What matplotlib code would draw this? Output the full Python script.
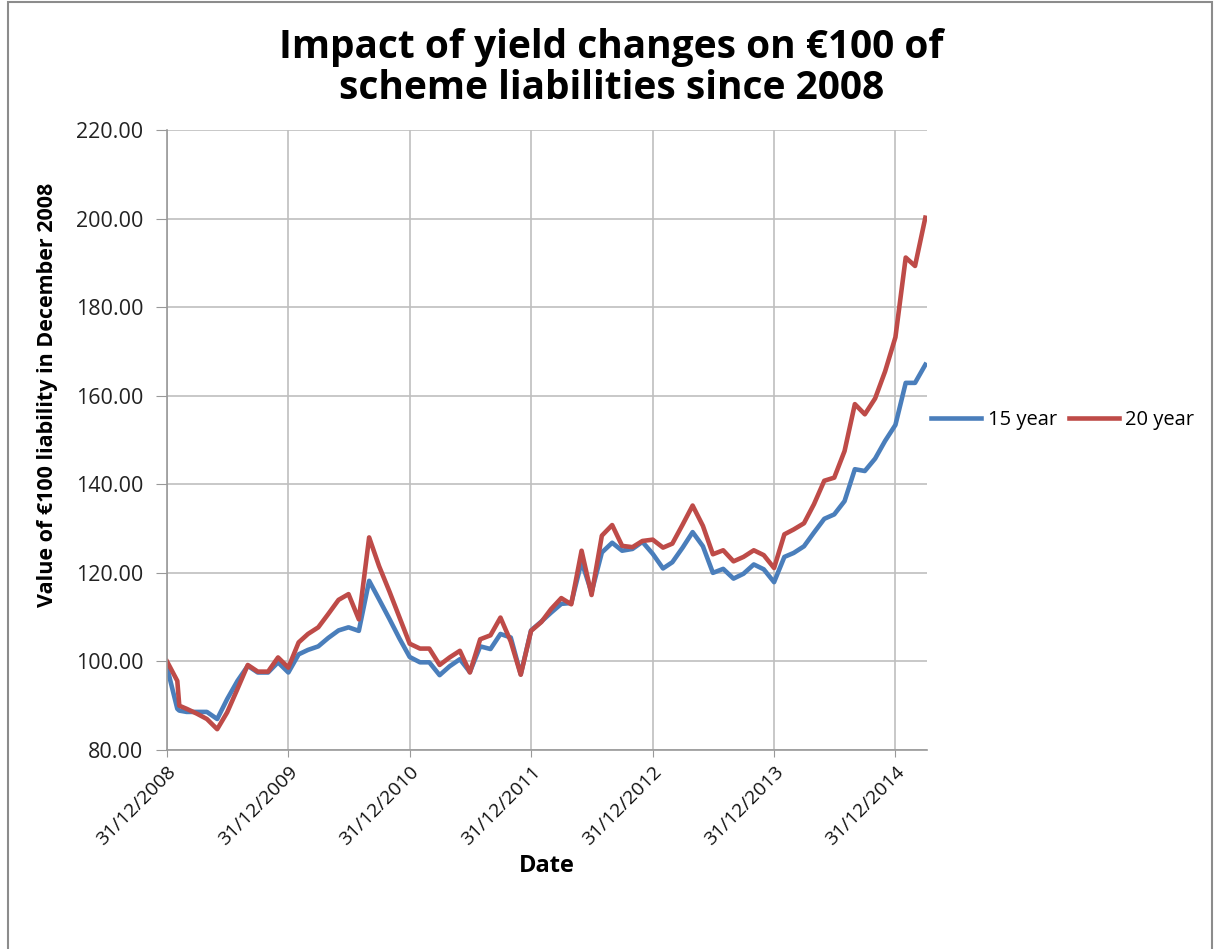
import matplotlib
matplotlib.use("Agg")
import matplotlib.pyplot as plt
import matplotlib.dates as mdates
from matplotlib.patches import Rectangle
import pandas as pd

# Daten
dates = ["2008-12-31", "2009-01-31", "2009-02-06", "2009-02-28", "2009-03-31", "2009-04-30",
         "2009-05-31", "2009-06-30", "2009-07-31", "2009-08-31", "2009-09-30", "2009-10-31",
         "2009-11-30", "2009-12-31", "2010-01-31", "2010-02-28", "2010-03-31", "2010-04-30",
         "2010-05-31", "2010-06-30", "2010-07-31", "2010-08-31", "2010-09-30", "2010-10-31",
         "2010-11-30", "2010-12-31", "2011-01-31", "2011-02-28", "2011-03-31", "2011-04-30",
         "2011-05-31", "2011-06-30", "2011-07-31", "2011-08-31", "2011-09-30", "2011-10-31",
         "2011-11-30", "2011-12-31", "2012-01-31", "2012-02-29", "2012-03-31", "2012-04-30",
         "2012-05-31", "2012-06-30", "2012-07-31", "2012-08-31", "2012-09-30", "2012-10-31",
         "2012-11-30", "2012-12-31", "2013-01-31", "2013-02-28", "2013-03-31", "2013-04-30",
         "2013-05-31", "2013-06-30", "2013-07-31", "2013-08-31", "2013-09-30", "2013-10-31",
         "2013-11-30", "2013-12-31", "2014-01-31", "2014-02-28", "2014-03-31", "2014-04-30",
         "2014-05-31", "2014-06-30", "2014-07-31", "2014-08-31", "2014-09-30", "2014-10-31",
         "2014-11-30", "2014-12-31", "2015-01-31", "2015-02-28", "2015-03-31"]

fifteen_year = [98.7, 89.3, 88.9, 88.6, 88.6, 88.6, 87.0, 91.5, 95.6, 99.0, 97.5, 97.5,
                99.8, 97.5, 101.6, 102.6, 103.4, 105.3, 107.0, 107.7, 106.9, 118.2, 114.0, 109.6,
                105.2, 101.0, 99.8, 99.8, 96.9, 98.9, 100.5, 97.6, 103.4, 102.8, 106.2, 105.4,
                97.1, 107.0, 109.0, 111.0, 113.0, 113.2, 122.5, 115.6, 124.6, 126.8, 125.0, 125.4,
                127.0, 124.3, 121.0, 122.4, 125.7, 129.2, 126.0, 120.0, 120.9, 118.7, 119.8, 121.9,
                120.8, 117.9, 123.6, 124.5, 126.0, 129.1, 132.2, 133.2, 136.2, 143.4, 143.0, 145.8,
                149.8, 153.4, 162.9, 162.9, 167.0]

twenty_year = [100.0, 95.6, 90.0, 89.3, 88.2, 87.0, 84.7, 88.5, 93.8, 99.2, 97.7, 97.7,
               100.9, 98.6, 104.3, 106.2, 107.7, 110.7, 113.9, 115.2, 109.5, 128.0, 121.5, 115.8,
               110.0, 104.0, 102.9, 102.9, 99.2, 100.9, 102.4, 97.5, 105.0, 105.9, 109.9, 104.5,
               97.0, 106.9, 108.9, 111.8, 114.3, 112.9, 125.0, 115.0, 128.4, 130.8, 126.1, 125.8,
               127.2, 127.5, 125.7, 126.6, 130.9, 135.2, 130.6, 124.2, 125.1, 122.6, 123.6, 125.1,
               124.0, 121.1, 128.7, 129.8, 131.2, 135.5, 140.8, 141.5, 147.5, 158.1, 155.8, 159.4,
               165.5, 173.2, 191.2, 189.3, 200.2]

tick_years = [2008, 2009, 2010, 2011, 2012, 2013, 2014]
y_ticks = [80, 100, 120, 140, 160, 180, 200, 220]

df = pd.DataFrame({"Date": pd.to_datetime(dates),
                   "15 year": fifteen_year,
                   "20 year": twenty_year})

plt.rcParams['font.family'] = ['Open Sans', 'DejaVu Sans']

fig = plt.figure(figsize=(12.15, 9.49), dpi=100)
ax = fig.add_axes([167 / 1215, 1 - 750 / 949, 760 / 1215, 620 / 949])

ax.plot(df["Date"], df["15 year"], color="#4A7EBB", lw=3.3, label="15 year",
        solid_joinstyle="round")
ax.plot(df["Date"], df["20 year"], color="#BE4B48", lw=3.3, label="20 year",
        solid_joinstyle="round")

ax.set_xlim(df["Date"].iloc[0], df["Date"].iloc[-1] + pd.Timedelta(days=5))
ax.set_ylim(80, 220)
ax.set_yticks(y_ticks)
ax.set_yticklabels([f"{v:.2f}" for v in y_ticks])
ax.set_xticks([pd.Timestamp(f"{y}-12-31") for y in tick_years])
ax.xaxis.set_major_formatter(mdates.DateFormatter("%d/%m/%Y"))

ax.grid(True, color="#bfbfbf", lw=1.2)
ax.set_axisbelow(True)
for s in ["top", "right"]:
    ax.spines[s].set_visible(False)
for s in ["left", "bottom"]:
    ax.spines[s].set_color("#999999")
    ax.spines[s].set_linewidth(1.2)

ax.tick_params(axis="y", length=8, pad=9, color="#999999", labelsize=15.5, labelcolor="#222222")
ax.tick_params(axis="x", length=5, pad=4, color="#999999", labelsize=14, labelcolor="#111111")
for lbl in ax.get_xticklabels():
    lbl.set_rotation(45)
    lbl.set_ha("right")
    lbl.set_rotation_mode("anchor")

ax.set_xlabel("Date", fontsize=17, fontweight="bold", va="center")
ax.xaxis.set_label_coords(0.5, -(866 - 750) / 620)
ax.set_ylabel("Value of €100 liability in December 2008", fontsize=15.5, fontweight="bold", va="center")
ax.yaxis.set_label_coords(-(167 - 48) / 760, (750 - 395) / 620)

fig.text(0.503, 1 - 68 / 949, "Impact of yield changes on €100 of\nscheme liabilities since 2008",
         ha="center", va="center", fontsize=28, fontweight="bold", linespacing=1.05)

ax.legend(loc="center left", bbox_to_anchor=(913 / 1215, 1 - 420 / 949),
          bbox_transform=fig.transFigure, ncol=2, frameon=False, fontsize=14.5,
          handlelength=2.5, handletextpad=0.3, columnspacing=0.6)

# Rahmen um das Diagramm
fig.patches.append(Rectangle((8 / 1215, -0.01), 1204 / 1215, 1.0 - 2 / 949 + 0.01,
                             transform=fig.transFigure, fill=False,
                             edgecolor="#8c8c8c", lw=1.5))

fig.savefig("out.png", dpi=100)
